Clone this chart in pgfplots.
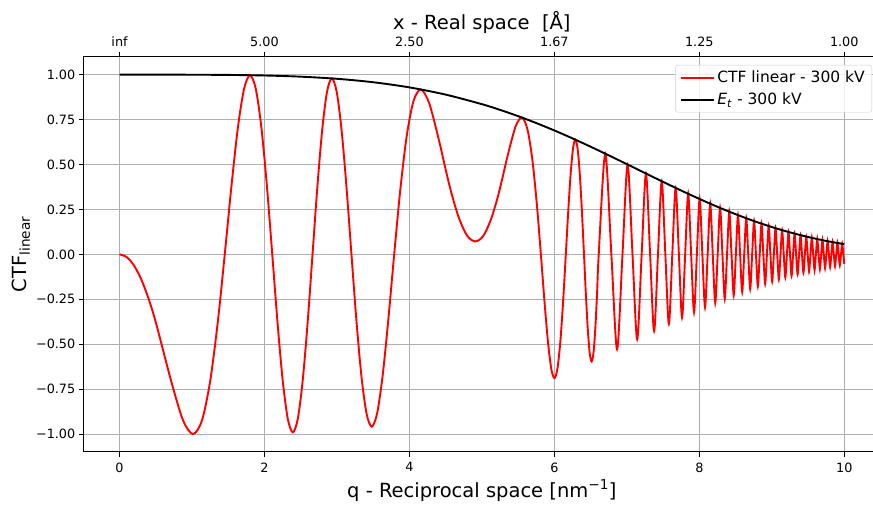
\documentclass[border=0pt]{standalone}
\usepackage{fontspec}
\setmainfont{DejaVu Sans}
\usepackage{pgfplots}
\pgfplotsset{compat=1.18}
\definecolor{gridgray}{RGB}{176,176,176}
\definecolor{legframe}{RGB}{204,204,204}

\begin{document}
\begin{tikzpicture}
\pgfplotsset{
  common/.style={
    scale only axis,
    width=797.2pt, height=395.3pt,
    at={(0pt,0pt)}, anchor=south west,
    xmin=-0.5, xmax=10.5, ymin=-1.1, ymax=1.1,
    tick align=outside,
    major tick length=4.5pt,
    tick style={black, line width=1pt},
    axis line style={black, line width=1pt},
    tick label style={font=\fontsize{12.8}{15}\selectfont},
  },
}
\begin{axis}[
  common,
  xtick={0,2,4,6,8,10},
  xticklabels={0,2,4,6,8,10},
  ytick={-1,-0.75,-0.5,-0.25,0,0.25,0.5,0.75,1},
  yticklabels={−1.00,−0.75,−0.50,−0.25,0.00,0.25,0.50,0.75,1.00},
  xtick pos=bottom, ytick pos=left,
  xticklabel style={yshift=-2.5pt},
  grid=major,
  major grid style={gridgray, line width=0.8pt},
  xlabel={q - Reciprocal space [nm\textsuperscript{−1}]},
  ylabel={CTF\textsubscript{linear}},
  every axis x label/.style={at={(rel axis cs:0.5,0)}, anchor=base, yshift=-45.3pt,
    font=\fontsize{19.5}{23}\selectfont},
  every axis y label/.style={at={(rel axis cs:0,0.5)}, xshift=-56.6pt, rotate=90, anchor=base,
    font=\fontsize{19.5}{23}\selectfont},
  legend style={at={(rel axis cs:1,1)}, anchor=north east, xshift=-8.5pt, yshift=-8.3pt,
    draw=legframe, rounded corners=2.5pt, fill=white, fill opacity=0.8, text opacity=1,
    font=\fontsize{15.5}{18}\selectfont, inner xsep=5pt, inner ysep=4pt, row sep=4.5pt},
  legend cell align=left,
  legend image code/.code={\draw[#1] (0pt,0pt) -- (33pt,0pt);},
]
% CTF linear, 300 kV
\addplot[color=red, line width=1.9pt, smooth] coordinates {
(0,0) (0.1,-0.01558) (0.2,-0.0623) (0.3,-0.13955) (0.4,-0.2460) (0.50329,-0.38268)
(0.71369,-0.70706) (0.87645,-0.92372) (1.01486,-0.99970) (1.13783,-0.92344)
(1.25001,-0.70661) (1.35411,-0.38231) (1.45191,0) (1.54465,0.38206) (1.63326,0.70567)
(1.71834,0.92157) (1.80053,0.99699) (1.88019,0.92057) (1.95770,0.70414) (2.03335,0.38081)
(2.10739,0) (2.18003,-0.38021) (2.25145,-0.70191) (2.32183,-0.91620) (2.39132,-0.99066)
(2.46006,-0.91422) (2.52818,-0.69887) (2.59578,-0.37772) (2.66300,0) (2.72993,0.37663)
(2.79670,0.69480) (2.86341,0.90623) (2.93017,0.97907) (2.99709,0.90273) (3.06430,0.68944)
(3.13192,0.37226) (3.20009,0) (3.26897,-0.37034) (3.33873,-0.68234) (3.40956,-0.88874)
(3.48168,-0.95870) (3.55539,-0.88248) (3.63099,-0.67270) (3.70890,-0.36246) (3.78963,0)
(3.87390,0.35874) (3.96263,0.65880) (4.05722,0.85478) (4.15980,0.91765) (4.27410,0.83952)
(4.40765,0.63452) (4.50450,0.46407) (4.58210,0.33716) (4.67158,0.21543) (4.76078,0.12858)
(4.82675,0.08931) (4.90720,0.07154) (4.98636,0.08740) (5.04938,0.12364) (5.13198,0.20240)
(5.21207,0.30964) (5.27928,0.41790) (5.36040,0.55793) (5.46748,0.71488) (5.55494,0.76089)
(5.63030,0.69241) (5.69727,0.52260) (5.75796,0.27914) (5.81377,0) (5.86561,-0.27245)
(5.91415,-0.49774) (5.95990,-0.64321) (6.00326,-0.68883) (6.04451,-0.62984)
(6.08393,-0.47722) (6.12168,-0.25574) (6.15797,0) (6.19292,0.25090) (6.22666,0.45933)
(6.25928,0.59470) (6.29090,0.63795) (6.32156,0.58421) (6.35136,0.44326) (6.38034,0.23784)
(6.40857,0) (6.43607,-0.23387) (6.46294,-0.42857) (6.48917,-0.55539) (6.51481,-0.59631)
(6.53990,-0.54652) (6.56447,-0.41498) (6.58852,-0.22283) (6.61212,0)
(6.70220,0.56042) (6.78625,0) (6.86523,-0.52860) (6.93983,0) (7.01063,0.49993)
(7.07807,0) (7.14253,-0.47381) (7.20432,0) (7.26370,0.44981) (7.32089,0)
(7.37609,-0.42761) (7.42945,0) (7.48112,0.40699) (7.53123,0) (7.57989,-0.38775)
(7.62720,0) (7.67326,0.36974) (7.71813,0) (7.76189,-0.35285) (7.80461,0)
(7.84634,0.33696) (7.88714,0) (7.92707,-0.32198) (7.96616,0) (8.00445,0.30784)
(8.04199,0) (8.07881,-0.29448) (8.11494,0) (8.15042,0.28182) (8.18527,0)
(8.21952,-0.26982) (8.25319,0) (8.28631,0.25844) (8.31889,0) (8.35097,-0.24763)
(8.38256,0) (8.41366,0.23735) (8.44432,0) (8.47453,-0.22757) (8.50432,0)
(8.53370,0.21826) (8.56267,0) (8.59126,-0.20939) (8.61948,0) (8.64734,0.20094)
(8.67485,0) (8.70202,-0.19287) (8.72886,0) (8.75538,0.18517) (8.78159,0)
(8.80749,-0.17782) (8.83311,0) (8.85843,0.17079) (8.88348,0) (8.90826,-0.16408)
(8.93277,0) (8.95703,0.15766) (8.98104,0) (9.00480,-0.15152) (9.02832,0)
(9.05161,0.14565) (9.07467,0) (9.09751,-0.14002) (9.12013,0) (9.14254,0.13464)
(9.16475,0) (9.18675,-0.12948) (9.20855,0) (9.23016,0.12454) (9.25158,0)
(9.27281,-0.11980) (9.29386,0) (9.31473,0.11526) (9.33543,0) (9.35595,-0.11091)
(9.37631,0) (9.39650,0.10673) (9.41654,0) (9.43641,-0.10273) (9.45613,0)
(9.47569,0.09888) (9.49511,0) (9.51438,-0.09520) (9.53350,0) (9.55249,0.09165)
(9.57133,0) (9.59004,-0.08825) (9.60861,0) (9.62705,0.08499) (9.64536,0)
(9.66355,-0.08186) (9.68160,0) (9.69954,0.07884) (9.71735,0) (9.73504,-0.07595)
(9.75262,0) (9.77008,0.07317) (9.78743,0) (9.80466,-0.07049) (9.82178,0)
(9.83880,0.06792) (9.85571,0) (9.87251,-0.06545) (9.88921,0) (9.90580,0.06308)
(9.92230,0) (9.93869,-0.06079) (9.95499,0) (9.97119,0.05860) (9.98730,0)
(10,-0.0537)
};
\addlegendentry{CTF linear - 300 kV}
% temporal envelope
\addplot[color=black, line width=1.9pt, smooth] coordinates {
(0,1) (0.5,0.99998) (1,0.99971) (1.5,0.99855) (2,0.99542) (2.5,0.98885) (3,0.97702)
(3.5,0.95785) (4,0.92916) (4.5,0.88897) (5,0.83579) (5.25,0.80410) (5.5,0.76903)
(5.75,0.73072) (6,0.68939) (6.25,0.64537) (6.5,0.59911) (6.75,0.55112) (7,0.50203)
(7.25,0.45252) (7.5,0.40330) (7.75,0.35510) (8,0.30865) (8.25,0.26460) (8.5,0.22354)
(8.75,0.18594) (9,0.15213) (9.25,0.12232) (9.5,0.09656) (9.75,0.07475) (10,0.05670)
};
\addlegendentry{\textit{E}\textsubscript{\textit{t}} - 300 kV}
\end{axis}

\begin{axis}[
  common,
  axis x line*=top,
  hide y axis,
  tick align=outside,
  xtick={0,2,4,6,8,10},
  xticklabels={inf,5.00,2.50,1.67,1.25,1.00},
  xticklabel style={yshift=2pt},
  xlabel={x - Real space\ \ [Å]},
  every axis x label/.style={at={(rel axis cs:0.5,1)}, anchor=base, yshift=26.7pt,
    font=\fontsize{19.5}{23}\selectfont},
]
\addplot[draw=none, forget plot] coordinates {(0,0)};
\end{axis}

\pgfresetboundingbox
\path[use as bounding box] (-83.3pt,-54pt) rectangle (789.7pt,452pt);
\end{tikzpicture}
\end{document}
